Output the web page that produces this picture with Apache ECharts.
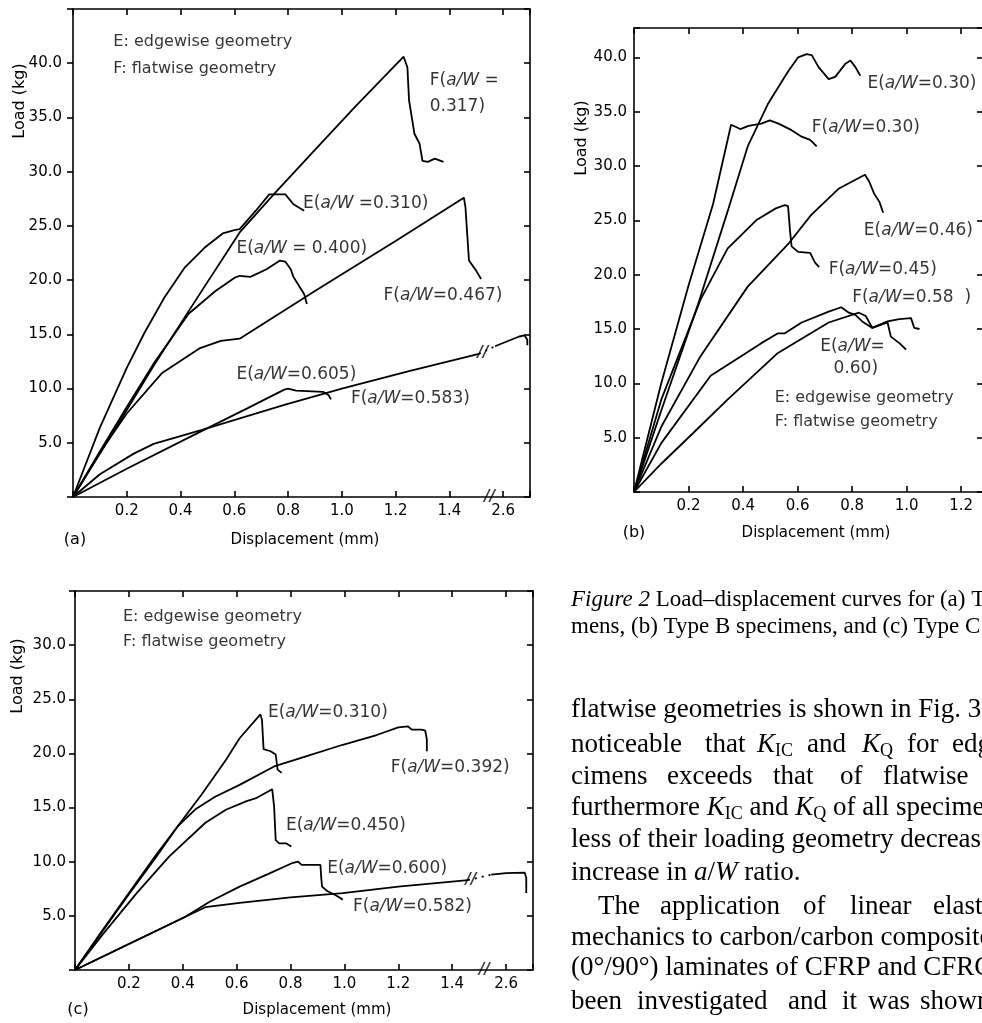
<!DOCTYPE html>
<html>
<head>
<meta charset="UTF-8">
<title>Figure 2 Load-displacement curves</title>
<script src="https://cdn.jsdelivr.net/npm/echarts@6.0.0/dist/echarts.min.js"></script>
<style>
    html, body { margin: 0; padding: 0; background: #fff; }
    #chart { width: 982px; height: 1023px; }
</style>
</head>
<body>
<div id="chart"></div>
<script type="text/javascript">

// (a) Type A specimens, displacement (mm) / load (kg)
var aE310 = [[0,0],[0.1,6.4],[0.2,11.9],[0.265,15.1],[0.34,18.4],[0.417,21.2],[0.49,23.0],[0.557,24.3],[0.6,24.6],[0.62,24.7],[0.68,26.4],[0.73,27.9],[0.79,27.9],[0.82,27.0],[0.86,26.4]];
var aF317 = [[0,0],[0.15,6.0],[0.30,12.1],[0.45,17.9],[0.62,24.4],[0.75,28.0],[0.9,32.0],[1.05,36.0],[1.23,40.6],[1.244,39.6],[1.25,36.6],[1.27,33.5],[1.289,32.6],[1.30,31.0],[1.32,30.9],[1.346,31.2],[1.378,30.9]];
var aE400 = [[0,0],[0.1,4.2],[0.2,8.3],[0.3,12.3],[0.43,16.9],[0.53,19.0],[0.6,20.2],[0.62,20.4],[0.66,20.3],[0.72,21.0],[0.77,21.8],[0.79,21.7],[0.81,21.0],[0.82,20.3],[0.84,19.5],[0.86,18.7],[0.87,17.8]];
var aF467 = [[0,0],[0.1,4.1],[0.2,7.7],[0.33,11.4],[0.47,13.7],[0.55,14.4],[0.62,14.6],[0.9,19.0],[1.2,23.6],[1.454,27.6],[1.46,26.7],[1.473,21.8],[1.499,20.9],[1.518,20.1]];
var aE605 = [[0,0],[0.2,2.6],[0.48,6.1],[0.65,8.2],[0.786,9.9],[0.80,10.0],[0.83,9.8],[0.93,9.7],[0.95,9.4],[0.96,9.0]];
var aF583 = [[0,0],[0.1,2.1],[0.226,4.0],[0.30,4.9],[0.48,6.2],[0.786,8.5],[1.0,10.0],[1.25,11.6],[1.51,13.2]];
var aF583Gap = [[1.51,13.2],[2.57,13.9]];
var aF583End = [[2.57,13.9],[2.66,14.8],[2.68,14.9],[2.69,14.5],[2.69,14.0]];
var aNotes = [[1.327,38.4,'F(a/W ='],[1.327,36.0,'0.317)'],[0.856,27.1,'E(a/W =0.310)'],[0.608,22.9,'E(a/W = 0.400)'],[1.155,18.6,'F(a/W=0.467)'],[0.608,11.3,'E(a/W=0.605)'],[1.034,9.1,'F(a/W=0.583)']];
var aLegend = [[0.15,42.0,'E: edgewise geometry'],[0.15,39.5,'F: flatwise geometry']];
var aBreak = 1.55;
var aBreakMarks = [[1.55,0],[1.525,13.3]];

// (b) Type B specimens
var bE30 = [[0,0],[0.1,7.5],[0.238,17.5],[0.343,25.8],[0.417,31.8],[0.491,35.7],[0.565,38.7],[0.602,40.0],[0.633,40.3],[0.652,40.2],[0.677,39.1],[0.714,38.0],[0.738,38.2],[0.775,39.4],[0.794,39.7],[0.812,39.1],[0.83,38.3]];
var bF30 = [[0,0],[0.1,10.0],[0.2,19.0],[0.29,26.5],[0.356,33.8],[0.39,33.4],[0.42,33.7],[0.467,33.9],[0.498,34.2],[0.53,33.9],[0.578,33.3],[0.615,32.7],[0.646,32.4],[0.67,31.8]];
var bF45 = [[0,0],[0.1,8.5],[0.244,17.7],[0.343,22.4],[0.448,25.0],[0.52,26.1],[0.553,26.4],[0.565,26.3],[0.572,24.1],[0.578,22.6],[0.602,22.1],[0.646,22.0],[0.664,21.1],[0.679,20.7]];
var bE46 = [[0,0],[0.1,6.0],[0.244,12.5],[0.417,18.9],[0.565,22.8],[0.65,25.5],[0.75,27.9],[0.847,29.2],[0.862,28.6],[0.88,27.5],[0.90,26.7],[0.914,25.7]];
var bF58 = [[0,0],[0.1,4.5],[0.281,10.7],[0.4,12.6],[0.467,13.7],[0.528,14.6],[0.553,14.6],[0.615,15.6],[0.714,16.6],[0.76,17.0],[0.788,16.5],[0.812,16.3],[0.837,15.7],[0.874,15.1],[0.93,15.7],[0.973,15.9],[1.016,16.0],[1.028,15.1],[1.047,15.0]];
var bE60 = [[0,0],[0.1,2.6],[0.22,5.5],[0.343,8.5],[0.528,12.8],[0.714,15.6],[0.825,16.5],[0.85,16.2],[0.874,15.1],[0.93,15.6],[0.942,14.3],[0.973,13.7],[0.998,13.1]];
var bNotes = [[0.856,37.6,'E(a/W=0.30)'],[0.652,33.5,'F(a/W=0.30)'],[0.843,24.1,'E(a/W=0.46)'],[0.714,20.5,'F(a/W=0.45)'],[0.80,17.9,'F(a/W=0.58  )'],[0.683,13.4,'E(a/W='],[0.732,11.4,'0.60)']];
var bLegend = [[0.516,8.7,'E: edgewise geometry'],[0.516,6.5,'F: flatwise geometry']];

// (c) Type C specimens
var cE310 = [[0,0],[0.1,3.5],[0.2,7.0],[0.3,10.4],[0.382,13.3],[0.47,16.2],[0.56,19.4],[0.611,21.4],[0.688,23.6],[0.694,23.1],[0.70,20.4],[0.726,20.2],[0.745,19.9],[0.752,18.5],[0.767,18.2]];
var cF392 = [[0,0],[0.1,3.6],[0.2,7.1],[0.3,10.6],[0.382,13.3],[0.45,14.9],[0.52,16.0],[0.611,17.1],[0.739,18.8],[0.866,19.8],[0.994,20.8],[1.12,21.7],[1.20,22.4],[1.236,22.5],[1.25,22.2],[1.287,22.2],[1.30,22.1],[1.306,21.3],[1.306,20.2]];
var cE450 = [[0,0],[0.1,3.2],[0.229,7.1],[0.35,10.5],[0.484,13.6],[0.56,14.8],[0.637,15.6],[0.675,15.9],[0.732,16.7],[0.739,15.1],[0.745,12.0],[0.758,11.7],[0.783,11.7],[0.803,11.4]];
var cE600 = [[0,0],[0.2,2.4],[0.408,4.9],[0.5,6.3],[0.611,7.7],[0.72,8.9],[0.809,9.9],[0.828,10.0],[0.841,9.7],[0.911,9.7],[0.914,8.5],[0.917,7.7],[0.936,7.3],[0.968,6.9],[0.994,6.5]];
var cF582 = [[0,0],[0.2,2.4],[0.408,4.9],[0.484,5.8],[0.611,6.2],[0.8,6.7],[0.994,7.1],[1.2,7.7],[1.459,8.3]];
var cF582Gap = [[1.459,8.3],[2.545,8.8]];
var cF582End = [[2.545,8.8],[2.6,8.95],[2.669,9.0],[2.675,8.5],[2.675,7.1]];
var cNotes = [[0.716,23.8,'E(a/W=0.310)'],[1.172,18.7,'F(a/W=0.392)'],[0.783,13.3,'E(a/W=0.450)'],[0.936,9.4,'E(a/W=0.600)'],[1.032,5.9,'F(a/W=0.582)']];
var cLegend = [[0.178,32.6,'E: edgewise geometry'],[0.178,30.3,'F: flatwise geometry']];
var cBreak = 1.52;
var cBreakMarks = [[1.52,0],[1.47,8.3]];

var FONT = 'DejaVu Sans';
var SERIF = 'Liberation Serif';

var chart = echarts.init(document.getElementById('chart'));

function tickY(max) {
    return function (v) {
        if (v <= 0 || v >= max - 1e-6 || Math.abs(v / 5 - Math.round(v / 5)) > 1e-6) return '';
        return v.toFixed(1);
    };
}
function richText(t) {
    return '{n|' + t.replace('a/W', '}{i|a/W}{n|') + '}';
}

// visible axes are plain; the broken part (break..break+1) is skipped, so labels past it read +1
function xAx(gi, max, brk, pos) {
    return {
        type: 'value', gridIndex: gi, position: pos, min: 0, max: max, interval: 0.2,
        axisLine: {show: true, onZero: false, lineStyle: {color: '#000', width: 1.6}},
        axisTick: {show: true, inside: true, length: 6, lineStyle: {color: '#000', width: 1.6}},
        axisLabel: {
            show: pos === 'bottom', color: '#000', fontFamily: FONT, fontSize: 15, margin: 7,
            formatter: function (v) {
                if (v <= 0 || Math.abs(v * 5 - Math.round(v * 5)) > 1e-6) return '';
                return (brk && v > brk ? v + 1 : v).toFixed(1);
            }
        },
        splitLine: {show: false}
    };
}
// hidden axis carrying the data, with the real break
function xData(gi, max, brk) {
    return {
        type: 'value', gridIndex: gi, show: false, min: 0, max: max,
        breaks: [{start: brk, end: brk + 1, gap: 0}],
        breakArea: {show: false},
        splitLine: {show: false}
    };
}
function yAx(gi, max, pos, inside, margin) {
    return {
        type: 'value', gridIndex: gi, position: pos, min: 0, max: max, interval: 5,
        axisLine: {show: true, onZero: false, lineStyle: {color: '#000', width: 1.6}},
        axisTick: {show: true, inside: inside, length: 6, lineStyle: {color: '#000', width: 1.6}},
        axisLabel: {show: pos === 'left', color: '#000', fontFamily: FONT, fontSize: 15, margin: margin, formatter: tickY(max)},
        splitLine: {show: false}
    };
}

var dataX = [2, 3, 7];

function curve(gi, data, dotted) {
    return {
        type: 'line', xAxisIndex: dataX[gi], yAxisIndex: gi * 2, data: data,
        symbol: 'none', silent: true,
        lineStyle: {color: '#000', width: 1.8, type: dotted ? [2, 5] : 'solid'}
    };
}
function notes(gi, data, size) {
    return {
        type: 'scatter', xAxisIndex: dataX[gi], yAxisIndex: gi * 2, data: data,
        symbolSize: 0, silent: true,
        label: {
            show: true, position: 'right', distance: 0,
            formatter: function (p) { return richText(p.value[2]); },
            rich: {
                n: {fontFamily: FONT, fontSize: size, color: '#000'},
                i: {fontFamily: FONT, fontSize: size, fontStyle: 'italic', color: '#000'}
            }
        }
    };
}
function marks(gi, data) {
    return {
        type: 'scatter', xAxisIndex: dataX[gi], yAxisIndex: gi * 2, data: data,
        symbolSize: 0, silent: true, z: 5,
        label: {show: true, position: 'inside', formatter: '//', fontFamily: FONT,
            fontSize: 15, fontWeight: 'bold', fontStyle: 'italic', color: '#000'}
    };
}

// texts around the charts
function txt(x, y, text, size, family, extra) {
    var el = {
        type: 'text', x: x, y: y, silent: true,
        style: {text: text, fontFamily: family, fontSize: size, fill: '#000', align: 'left', verticalAlign: 'middle'}
    };
    if (extra) {
        for (var k in extra) {
            if (k === 'rotation') el.rotation = extra[k]; else el.style[k] = extra[k];
        }
    }
    return el;
}
var bodyRich = {
    i: {fontFamily: SERIF, fontSize: 27, fontStyle: 'italic', lineHeight: 30},
    s: {fontFamily: SERIF, fontSize: 18, lineHeight: 14, verticalAlign: 'bottom'}
};
var bodyLines = [
    [710, [[571, 'flatwise geometries is shown in Fig. 3.']]],
    [745, [[571, 'noticeable'], [705, 'that'], [757, '{i|K}{s|IC}'], [807, 'and'], [862, '{i|K}{s|Q}'], [907, 'for'], [952, 'edgewise']]],
    [777, [[571, 'cimens'], [667, 'exceeds'], [773, 'that'], [840, 'of'], [883, 'flatwise']]],
    [808, [[571, 'furthermore {i|K}{s|IC} and {i|K}{s|Q} of all specimens']]],
    [840, [[571, 'less of their loading geometry decrease']]],
    [873, [[571, 'increase in {i|a}/{i|W} ratio.']]],
    [907, [[598, 'The'], [660, 'application'], [803, 'of'], [850, 'linear'], [933, 'elastic']]],
    [938, [[571, 'mechanics to carbon/carbon composites']]],
    [968, [[571, '(0°/90°) laminates of CFRP and CFRC']]],
    [1002, [[571, 'been'], [637, 'investigated'], [788, 'and'], [842, 'it'], [868, 'was'], [920, 'shown']]]
];

var graphics = [
    txt(20, 101, 'Load (kg)', 16, FONT, {rotation: Math.PI / 2, align: 'center'}),
    txt(582, 138, 'Load (kg)', 16, FONT, {rotation: Math.PI / 2, align: 'center'}),
    txt(18, 676, 'Load (kg)', 16, FONT, {rotation: Math.PI / 2, align: 'center'}),
    txt(75, 540, '(a)', 16, FONT, {align: 'center'}),
    txt(305, 540, 'Displacement (mm)', 15, FONT, {align: 'center'}),
    txt(634, 533, '(b)', 16, FONT, {align: 'center'}),
    txt(816, 533, 'Displacement (mm)', 15, FONT, {align: 'center'}),
    txt(78, 1010, '(c)', 16, FONT, {align: 'center'}),
    txt(317, 1010, 'Displacement (mm)', 15, FONT, {align: 'center'}),
    txt(571, 600, '{i|Figure 2} Load–displacement curves for (a) Type A speci-', 23, SERIF,
        {rich: {i: {fontFamily: SERIF, fontSize: 23, fontStyle: 'italic'}}}),
    txt(571, 627, 'mens, (b) Type B specimens, and (c) Type C specimens.', 23, SERIF)
];
bodyLines.forEach(function (line) {
    line[1].forEach(function (w) {
        graphics.push(txt(w[0], line[0], w[1], 27, SERIF, {rich: bodyRich, lineHeight: 30}));
    });
});

var option = {
    animation: false,
    backgroundColor: '#fff',
    grid: [
        {left: 73, top: 9, width: 457, height: 488, containLabel: false, outerBoundsMode: 'none'},
        {left: 634, top: 28, width: 349, height: 464, containLabel: false, outerBoundsMode: 'none'},
        {left: 75, top: 591, width: 458, height: 379, containLabel: false, outerBoundsMode: 'none'}
    ],
    xAxis: [
        xAx(0, 1.7, aBreak, 'bottom'), xAx(0, 1.7, aBreak, 'top'), xData(0, 2.7, aBreak),
        xAx(1, 1.28, null, 'bottom'), xAx(1, 1.28, null, 'top'),
        xAx(2, 1.7, cBreak, 'bottom'), xAx(2, 1.7, cBreak, 'top'), xData(2, 2.7, cBreak)
    ],
    yAxis: [
        yAx(0, 45, 'left', false, 11), yAx(0, 45, 'right', true, 8),
        yAx(1, 42.7, 'left', true, 7), yAx(1, 42.7, 'right', true, 8),
        yAx(2, 35, 'left', false, 9), yAx(2, 35, 'right', true, 8)
    ],
    series: [
        curve(0, aE310), curve(0, aF317), curve(0, aE400), curve(0, aF467), curve(0, aE605),
        curve(0, aF583), curve(0, aF583Gap, true), curve(0, aF583End),
        notes(0, aNotes, 17), notes(0, aLegend, 16), marks(0, aBreakMarks),
        curve(1, bE30), curve(1, bF30), curve(1, bF45), curve(1, bE46), curve(1, bF58), curve(1, bE60),
        notes(1, bNotes, 17), notes(1, bLegend, 16),
        curve(2, cE310), curve(2, cF392), curve(2, cE450), curve(2, cE600),
        curve(2, cF582), curve(2, cF582Gap, true), curve(2, cF582End),
        notes(2, cNotes, 17), notes(2, cLegend, 16), marks(2, cBreakMarks)
    ],
    graphic: graphics
};

chart.setOption(option);
</script>
</body>
</html>
